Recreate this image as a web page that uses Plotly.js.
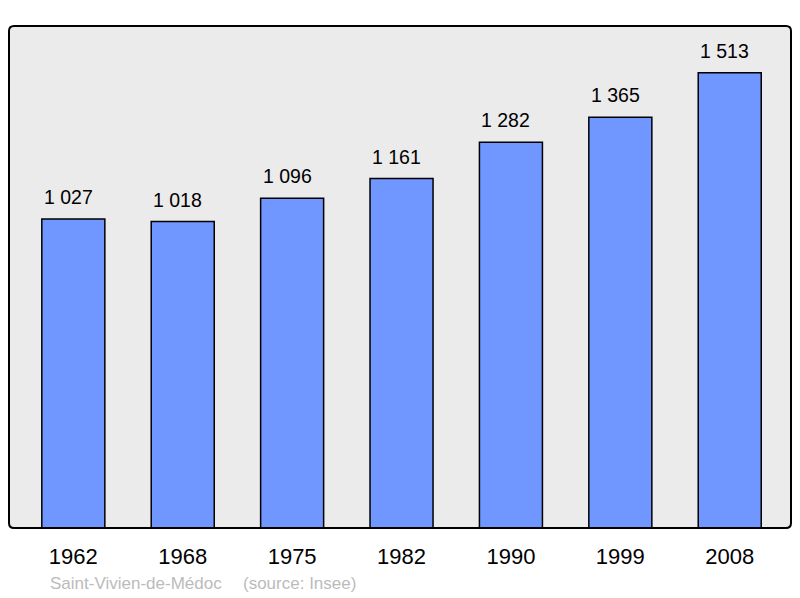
<!DOCTYPE html>
<html><head><meta charset="utf-8">
<script src="https://cdn.plot.ly/plotly-3.0.1.min.js"></script>
<style>html,body{margin:0;padding:0;background:#fff;}#chart{width:800px;height:598px;}</style>
</head><body><div id="chart"></div>
<script>
const years = ["1962","1968","1975","1982","1990","1999","2008"];
const population = [1027, 1018, 1096, 1161, 1282, 1365, 1513];
const footerName = "Saint-Vivien-de-Médoc";
const footerSource = "(source: Insee)";

function fmt(v){ return String(v).replace(/\B(?=(\d{3})+(?!\d))/g, " "); }

const W = 800, H = 598, ml = 9, mr = 9, mt = 26, mb = 70;
const pw = W - ml - mr, ph = H - mt - mb;
const rx = 5 / pw, ry = 5 / ph;
const roundPath = `M ${rx} 0 L ${1-rx} 0 Q 1 0 1 ${ry} L 1 ${1-ry} Q 1 1 ${1-rx} 1 L ${rx} 1 Q 0 1 0 ${1-ry} L 0 ${ry} Q 0 0 ${rx} 0 Z`;
const FONT = "Liberation Sans, Arial, sans-serif";

const trace = {
  type: "bar",
  x: years.map((_, i) => i),
  y: population,
  width: 0.576,
  marker: {color: "#7096ff", line: {color: "#000", width: 1.5}},
  cliponaxis: false,
  hoverinfo: "none"
};

const valueLabels = population.map((v, i) => ({
  xref: "x", yref: "y", x: i, y: v, yanchor: "bottom", xanchor: "center",
  yshift: 9, xshift: -5, showarrow: false, text: fmt(v),
  font: {family: FONT, size: 19.5, color: "#000"}
}));

const layout = {
  width: W, height: H,
  margin: {l: ml, r: mr, t: mt, b: mb, pad: 0},
  paper_bgcolor: "#fff",
  plot_bgcolor: "#ebebeb",
  showlegend: false,
  xaxis: {
    range: [-0.588, 6.56],
    tickmode: "array",
    tickvals: years.map((_, i) => i),
    ticktext: years,
    ticks: "outside", ticklen: 9, tickcolor: "rgba(0,0,0,0)",
    tickfont: {family: FONT, size: 22, color: "#000"},
    showgrid: false, zeroline: false, showline: false, fixedrange: true
  },
  yaxis: {
    range: [0, 1668],
    showticklabels: false, showgrid: false, zeroline: false, showline: false, ticks: "", fixedrange: true
  },
  shapes: [{
    type: "path", xref: "paper", yref: "paper", path: roundPath,
    line: {color: "#000", width: 2}, fillcolor: "rgba(0,0,0,0)", layer: "above"
  }],
  annotations: valueLabels.concat([
    {xref: "paper", yref: "paper", x: (48 - ml) / pw, y: -(595 - mt - ph) / ph, xanchor: "left", yanchor: "bottom",
     text: footerName, showarrow: false, font: {family: FONT, size: 17, color: "#bbbbbb"}},
    {xref: "paper", yref: "paper", x: (241 - ml) / pw, y: -(595 - mt - ph) / ph, xanchor: "left", yanchor: "bottom",
     text: footerSource, showarrow: false, font: {family: FONT, size: 17, color: "#bbbbbb"}}
  ])
};

Plotly.newPlot("chart", [trace], layout, {displayModeBar: false, staticPlot: true});
</script></body></html>
